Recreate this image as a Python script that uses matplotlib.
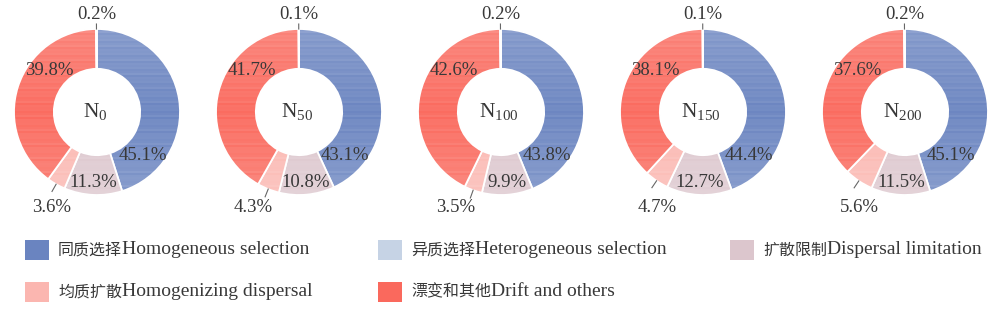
import numpy as np
import matplotlib
matplotlib.use("Agg")
import matplotlib.pyplot as plt
from matplotlib.patches import Rectangle

plt.rcParams['font.family'] = ['Liberation Serif', 'Noto Sans CJK SC']
plt.rcParams['mathtext.fontset'] = 'custom'
plt.rcParams['mathtext.rm'] = 'Liberation Serif'
plt.rcParams['mathtext.it'] = 'Liberation Serif'

# ---- data ----
samples = ["0", "50", "100", "150", "200"]
cat_cn = ["同质选择", "异质选择", "扩散限制", "均质扩散", "漂变和其他"]
cat_en = ["Homogeneous selection", "Heterogeneous selection", "Dispersal limitation",
          "Homogenizing dispersal", "Drift and others"]
homog_sel = [45.1, 43.1, 43.8, 44.4, 45.1]
hetero_sel = [0.2, 0.1, 0.2, 0.1, 0.2]
disp_lim = [11.3, 10.8, 9.9, 12.7, 11.5]
homog_disp = [3.6, 4.3, 3.5, 4.7, 5.6]
drift = [39.8, 41.7, 42.6, 38.1, 37.6]

colors = ["#6a84c0", "#c6d3e5", "#dcc6cd", "#fbb6b0", "#fa695d"]
# pie order clockwise from top: homog sel, disp lim, homog disp, drift, hetero sel
pie_order = [0, 2, 3, 4, 1]

W, H = 1003, 309
fig = plt.figure(figsize=(W / 100, H / 100), dpi=100)

R_PX = 83.0
S = 200.0
L = (S / 2) / R_PX
centers_x = [97 + 202 * i for i in range(5)]
center_y = 112
text_col = "#383838"

# texture: faint horizontal stripes + lighter toward top/bottom
NROW = 83
yy = np.linspace(-1, 1, NROW)
stripe = 0.5 + 0.5 * np.sin(np.arange(NROW) * 2.7) * np.cos(np.arange(NROW) * 0.9)
alpha_tex = np.clip(0.16 * np.abs(yy) + 0.10 * stripe, 0, 1)[:, None] * np.ones((1, 2))

for i, s in enumerate(samples):
    vals_all = [homog_sel[i], hetero_sel[i], disp_lim[i], homog_disp[i], drift[i]]
    vals = [vals_all[k] for k in pie_order]
    cols = [colors[k] for k in pie_order]
    cx = centers_x[i]
    ax = fig.add_axes([(cx - S / 2) / W, (H - center_y - S / 2) / H, S / W, S / H])
    ax.axis('off')
    wedges, _ = ax.pie(vals, colors=cols, startangle=90, counterclock=False, radius=1.0,
                       wedgeprops=dict(width=0.48, edgecolor='white', linewidth=1.3))
    for w in wedges:
        im = ax.imshow(np.ones((NROW, 2)), extent=(-1, 1, -1, 1), cmap='Greys_r', vmin=0, vmax=1,
                       origin='lower', aspect='auto', interpolation='nearest',
                       zorder=w.get_zorder() + 0.1)
        im.set_alpha(alpha_tex)
        im.set_clip_path(w)
    ax.set_xlim(-L, L)
    ax.set_ylim(-L, L)
    ax.set_aspect('equal')

    cum = np.cumsum([0] + vals)
    mids = [90 - 3.6 * (cum[k] + cum[k + 1]) / 2 for k in range(len(vals))]

    def put(x, y, v):
        ax.text(x, y, f"{v:.1f}%", ha='center', va='center', fontsize=13.5, color=text_col,
                zorder=10)
    a = np.deg2rad(-44)
    put(0.76 * np.cos(a), 0.76 * np.sin(a), vals[0])
    a = np.deg2rad(139)
    put(0.76 * np.cos(a), 0.76 * np.sin(a), vals[3])
    a = np.deg2rad(mids[1])
    put(0.855 * np.cos(a), 0.855 * np.sin(a), vals[1])
    a = np.deg2rad(mids[2])
    ax.plot([np.cos(a), 1.1 * np.cos(a)], [np.sin(a), 1.1 * np.sin(a)], color='#666666', lw=0.8)
    put(-0.55, -1.15, vals[2])
    a = np.deg2rad(mids[4])
    ax.plot([np.cos(a), 1.06 * np.cos(a)], [np.sin(a), 1.06 * np.sin(a)], color='#666666', lw=0.8)
    put(0.0, 1.17, vals[4])
    ax.text(-0.02, 0, "N$_{%s}$" % s, ha='center', va='center', fontsize=15.5, color=text_col)

# ---- legend ----
leg_rows = [[0, 1, 2], [3, 4]]
col_x = [25, 378, 730]
row_y = [250, 292]
ax0 = fig.axes[0]
for r, row in enumerate(leg_rows):
    for c, k in enumerate(row):
        x0 = col_x[c]
        yc = row_y[r]
        fig.patches.append(Rectangle((x0 / W, (H - yc - 10) / H), 24 / W, 20 / H,
                                     transform=fig.transFigure, facecolor=colors[k],
                                     edgecolor='none'))
        t1 = fig.text((x0 + 33) / W, (H - yc) / H, cat_cn[k], ha='left', va='center',
                      fontsize=11.5, color=text_col, family=['Noto Sans CJK SC'])
        ax0.annotate(cat_en[k], xy=(1, 0.5), xycoords=t1, xytext=(0, 0),
                     textcoords='offset points', ha='left', va='center', fontsize=14,
                     color=text_col, annotation_clip=False)

fig.savefig("out.png", dpi=100)
